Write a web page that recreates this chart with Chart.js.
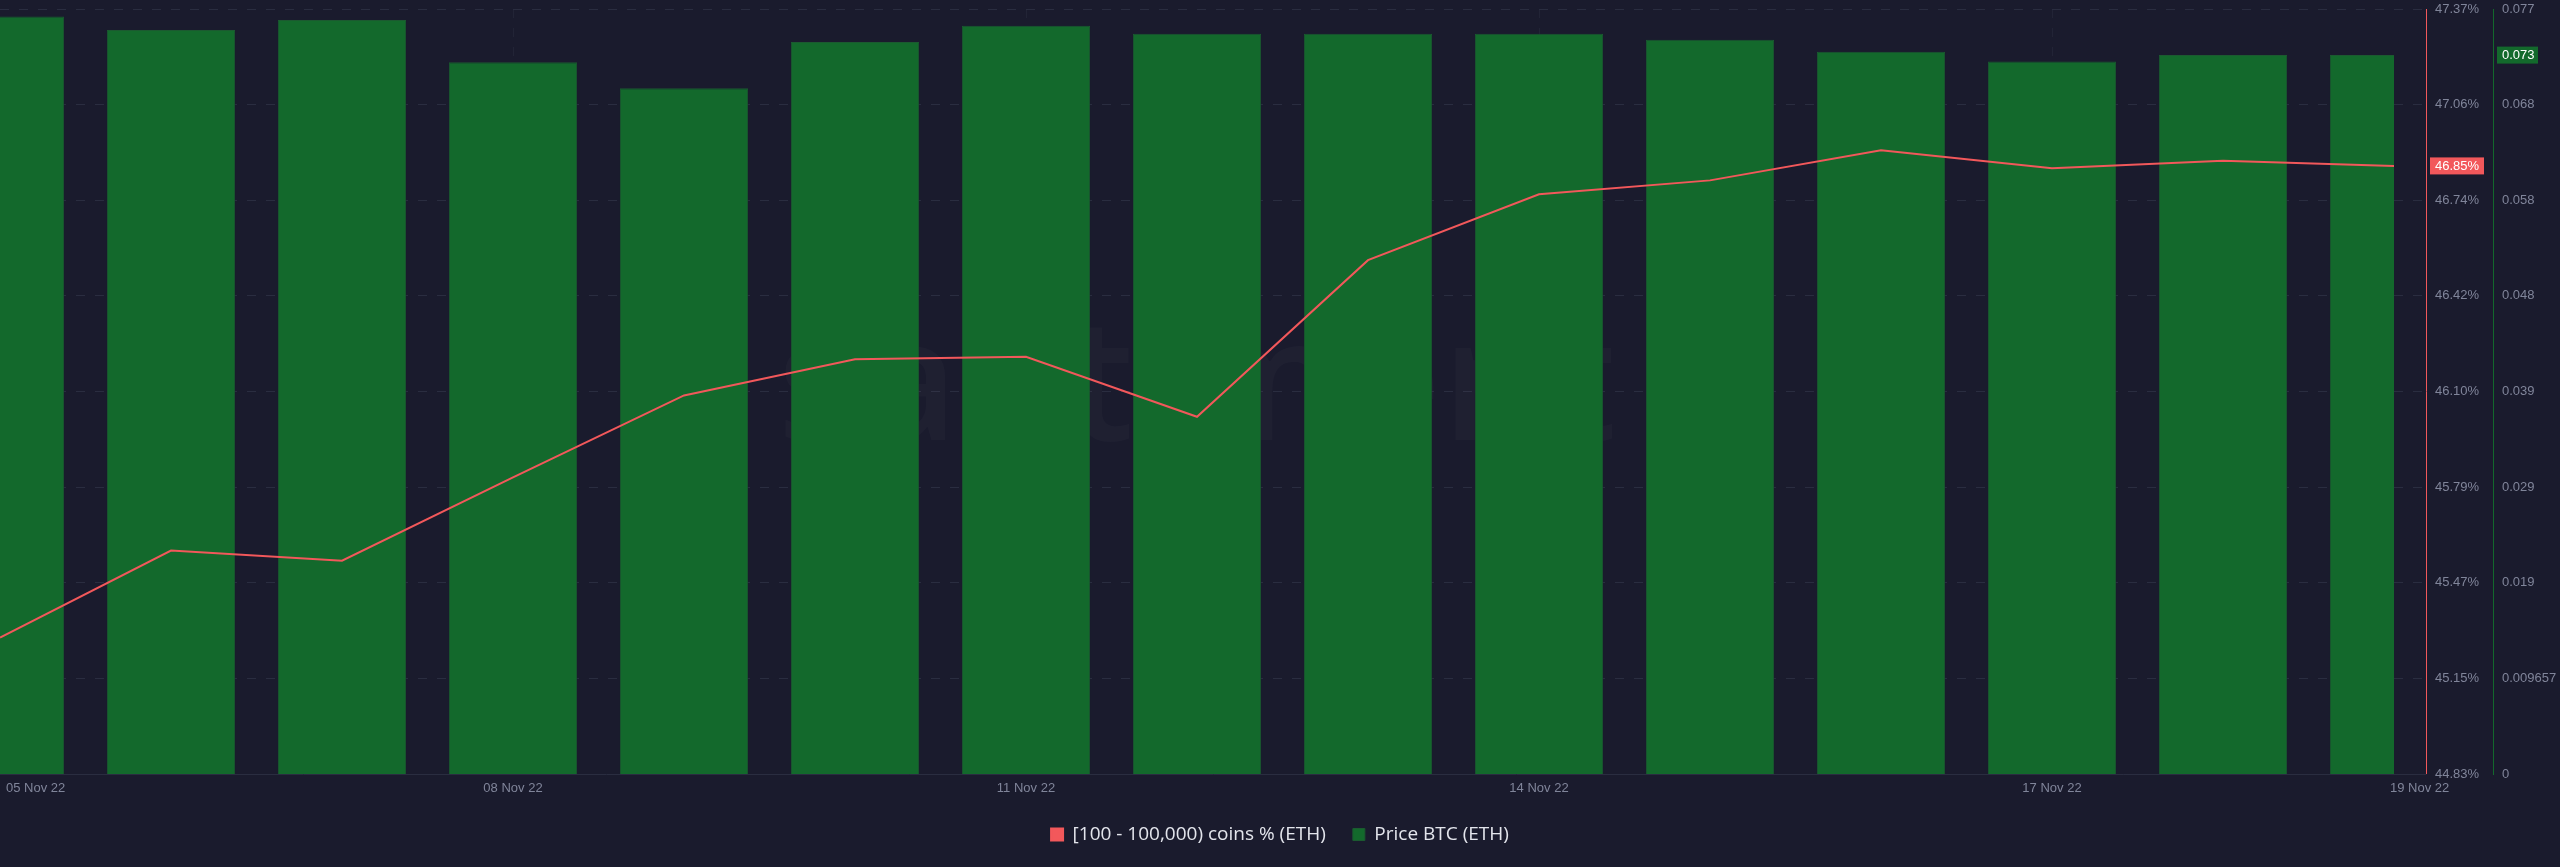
<!DOCTYPE html>
<html>
<head>
<meta charset="utf-8">
<script src="https://cdn.jsdelivr.net/npm/chart.js@4.4.0/dist/chart.umd.min.js"></script>
<style>
  html, body { margin: 0; padding: 0; background: #1a1b2d; }
  canvas { display: block; }
</style>
</head>
<body>
<canvas id="coinsChart" width="2560" height="867"></canvas>
<script>
const dates = ['05 Nov 22', '06 Nov 22', '07 Nov 22', '08 Nov 22', '09 Nov 22', '10 Nov 22', '11 Nov 22',
  '12 Nov 22', '13 Nov 22', '14 Nov 22', '15 Nov 22', '16 Nov 22', '17 Nov 22', '18 Nov 22', '19 Nov 22'];
const coinsPct = [45.287, 45.576, 45.542, 45.819, 46.091, 46.211, 46.219, 46.020, 46.540, 46.759,
  46.805, 46.905, 46.845, 46.870, 46.853];
const priceBtc = [0.07651, 0.07513, 0.07614, 0.07189, 0.06926, 0.07392, 0.07557, 0.07476, 0.07476,
  0.07476, 0.07415, 0.07294, 0.07196, 0.07260, 0.07260];
const dateTickIdx = [0, 3, 6, 9, 12, 14];
const pctTickLabels = ['44.83%', '45.15%', '45.47%', '45.79%', '46.10%', '46.42%', '46.74%', '47.06%', '47.37%'];
const priceTickLabels = ['0', '0.009657', '0.019', '0.029', '0.039', '0.048', '0.058', '0.068', '0.077'];
const pctMin = 44.834, pctMax = 47.374;
const priceMin = 0, priceMax = 0.077256;

const RED = '#f2585b';
const GREEN = '#13692c';
const GRID = '#2a2d40';
const TICK_TEXT = '#80859a';
const tickFont = { family: '"Liberation Sans", Arial, sans-serif', size: 13 };

// evenly spaced ticks between min and max, one per label
function spreadTicks(scale, min, max, n) {
  const ticks = [];
  for (let i = 0; i < n; i++) ticks.push({ value: min + (max - min) * i / (n - 1) });
  scale.ticks = ticks;
}

const overlayPlugin = {
  id: 'overlay',
  beforeDatasetsDraw(chart) {
    const { ctx, chartArea } = chart;
    ctx.save();
    ctx.font = '600 170px "Open Sans", sans-serif';
    ctx.fillStyle = 'rgba(255, 255, 255, 0.025)';
    ctx.textAlign = 'center';
    ctx.textBaseline = 'middle';
    ctx.fillText('santiment', (chartArea.left + chartArea.right) / 2, (chartArea.top + chartArea.bottom) / 2);
    ctx.restore();
  },
  afterDraw(chart) {
    const { ctx, chartArea, scales } = chart;
    const x = scales.x, yPct = scales.yPct, yPrice = scales.yPrice;
    const redX = yPct.left + 32.5;
    ctx.save();

    // bottom axis line
    ctx.strokeStyle = GRID;
    ctx.lineWidth = 1;
    ctx.beginPath();
    ctx.moveTo(chartArea.left, chartArea.bottom + 0.5);
    ctx.lineTo(redX, chartArea.bottom + 0.5);
    ctx.stroke();

    // red axis line
    ctx.strokeStyle = RED;
    ctx.beginPath();
    ctx.moveTo(redX, chartArea.top);
    ctx.lineTo(redX, chartArea.bottom);
    ctx.stroke();

    // date labels
    ctx.font = `${tickFont.size}px ${tickFont.family}`;
    ctx.fillStyle = TICK_TEXT;
    ctx.textBaseline = 'middle';
    dateTickIdx.forEach((idx, k) => {
      const px = x.getPixelForValue(idx);
      let tx = px;
      if (k === 0) { ctx.textAlign = 'left'; tx = px + 6; }
      else if (k === dateTickIdx.length - 1) { ctx.textAlign = 'left'; tx = px - 4; }
      else ctx.textAlign = 'center';
      ctx.fillText(dates[idx], tx, chartArea.bottom + 14);
    });

    // last value badges
    ctx.textAlign = 'left';
    const lastPct = coinsPct[coinsPct.length - 1];
    const py = yPct.getPixelForValue(lastPct);
    ctx.fillStyle = RED;
    ctx.fillRect(yPct.left + 36, py - 8.5, 54, 17);
    ctx.fillStyle = '#ffffff';
    ctx.fillText(lastPct.toFixed(2) + '%', yPct.left + 41, py + 0.5);

    const lastPrice = priceBtc[priceBtc.length - 1];
    const gy = yPrice.getPixelForValue(lastPrice);
    ctx.fillStyle = GREEN;
    ctx.fillRect(yPrice.left + 4, gy - 8.5, 41, 17);
    ctx.fillStyle = '#ffffff';
    ctx.fillText(lastPrice.toFixed(3), yPrice.left + 9, gy + 0.5);
    ctx.restore();
  }
};

// fixed axis width, no extra label overflow padding
function fitAxis(width) {
  return (s) => {
    s.width = width;
    s.paddingTop = 0;
    s.paddingBottom = 0;
  };
}

const ctx = document.getElementById('coinsChart').getContext('2d');
const coinsChart = new Chart(ctx, {
  type: 'bar',
  data: {
    labels: dates,
    datasets: [{
      type: 'line',
      label: '[100 - 100,000) coins % (ETH)',
      data: coinsPct,
      yAxisID: 'yPct',
      borderColor: RED,
      backgroundColor: RED,
      borderWidth: 2,
      pointRadius: 0,
      tension: 0
    }, {
      type: 'bar',
      label: 'Price BTC (ETH)',
      data: priceBtc,
      yAxisID: 'yPrice',
      backgroundColor: GREEN,
      borderColor: '#1b5a30',
      borderWidth: 1,
      borderSkipped: 'bottom',
      barPercentage: 0.75,
      categoryPercentage: 1
    }]
  },
  options: {
    responsive: false,
    devicePixelRatio: 1,
    animation: false,
    layout: {
      padding: { top: 9, left: 0, right: 0, bottom: 13 }
    },
    scales: {
      x: {
        type: 'category',
        offset: false,
        grid: {
          display: true,
          drawTicks: false,
          offset: false,
          color: (c) => (c.index > 0 && c.index < dates.length - 1 && dateTickIdx.includes(c.index)) ? 'rgba(42, 45, 64, 0.5)' : 'rgba(0,0,0,0)'
        },
        border: { display: false, dash: [9, 10] },
        ticks: { display: false },
        afterFit: (s) => { s.height = 24; s.paddingLeft = 0; s.paddingRight = 0; }
      },
      yPct: {
        type: 'linear',
        position: 'right',
        weight: 0,
        min: pctMin,
        max: pctMax,
        afterBuildTicks: (s) => spreadTicks(s, pctMin, pctMax, pctTickLabels.length),
        grid: {
          color: GRID,
          drawTicks: true,
          tickLength: 32,
          tickColor: GRID,
          tickBorderDash: [9, 10]
        },
        border: { display: false, dash: [9, 10] },
        ticks: {
          color: TICK_TEXT,
          font: tickFont,
          padding: 9,
          callback: (v, i) => pctTickLabels[i]
        },
        afterFit: fitAxis(99)
      },
      yPrice: {
        type: 'linear',
        position: 'right',
        weight: 1,
        min: priceMin,
        max: priceMax,
        afterBuildTicks: (s) => spreadTicks(s, priceMin, priceMax, priceTickLabels.length),
        grid: { display: false, drawOnChartArea: false, drawTicks: false },
        border: { display: true, color: GREEN, width: 1 },
        ticks: {
          color: TICK_TEXT,
          font: tickFont,
          padding: 9,
          callback: (v, i) => priceTickLabels[i]
        },
        afterFit: fitAxis(67)
      }
    },
    plugins: {
      legend: {
        display: true,
        position: 'bottom',
        labels: {
          color: '#e3e5ec',
          font: { family: '"Open Sans", sans-serif', size: 19 },
          boxWidth: 12,
          boxHeight: 12,
          padding: 27
        }
      },
      tooltip: { enabled: false }
    }
  },
  plugins: [overlayPlugin]
});
</script>
</body>
</html>
